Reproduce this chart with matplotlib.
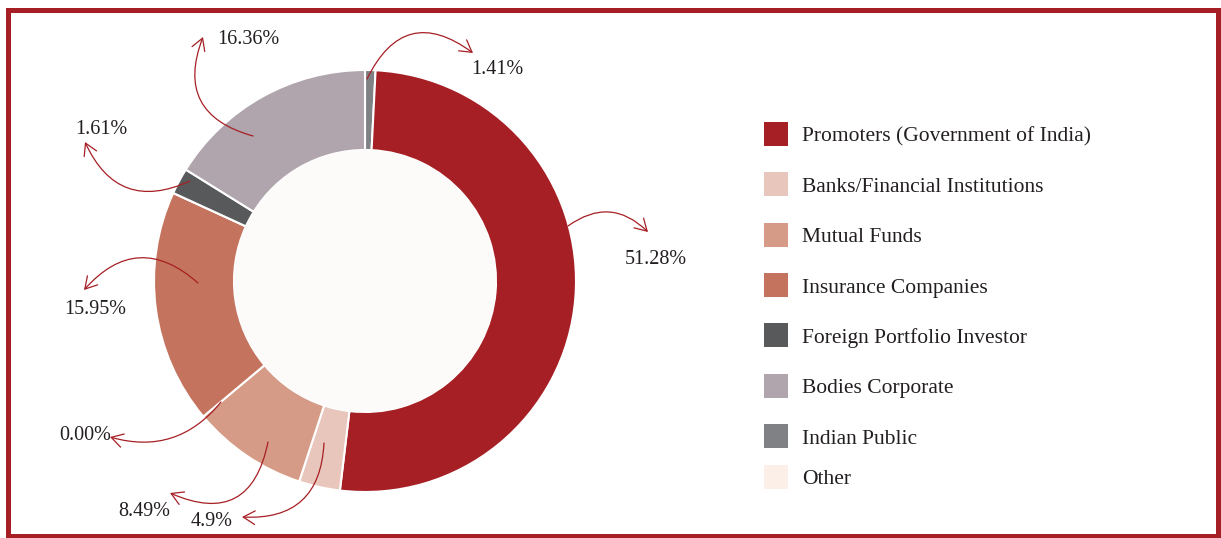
import matplotlib.pyplot as plt
from matplotlib.patches import Circle, Rectangle

# slices in drawing order, clockwise from 12 o'clock
slices = ['Indian Public', 'Promoters (Government of India)', 'Banks/Financial Institutions',
          'Mutual Funds', 'Insurance Companies', 'Other', 'Foreign Portfolio Investor',
          'Bodies Corporate']
# slice sizes as drawn in the picture (angles measured off the ring)
drawn = [0.8, 51.1, 3.15, 8.85, 17.95, 0.0, 2.0, 16.15]
# printed labels
labels = ['1.41%', '51.28%', '4.9%', '8.49%', '15.95%', '0.00%', '1.61%', '16.36%']
colors = ['#808184', '#a61f24', '#e8c6bb', '#d69b86', '#c4745e', '#fcefe8', '#58595b', '#b0a5ac']

legend_order = ['Promoters (Government of India)', 'Banks/Financial Institutions', 'Mutual Funds',
                'Insurance Companies', 'Foreign Portfolio Investor', 'Bodies Corporate',
                'Indian Public', 'Other']

W, H = 1221, 538
red = '#a61f24'
txt = '#231f20'
plt.rcParams['font.family'] = ['Liberation Serif', 'DejaVu Serif']

fig = plt.figure(figsize=(W / 100, H / 100), dpi=100)
ax = fig.add_axes([0, 0, 1, 1])

cx, cy, R = 365, H - 281, 211
ax.pie(drawn, colors=colors, startangle=90, counterclock=False, center=(cx, cy), radius=R,
       wedgeprops=dict(width=80, edgecolor='white', linewidth=1.5))
ax.add_patch(Circle((cx, cy), R - 80, facecolor='#fcfbfa', edgecolor='none'))

# label positions (image px): text centre, arrow start, arrow end, arc curvature
lab_pos = {
    '1.41%': ((497, 66), (367, 79), (473, 53), -0.6),
    '51.28%': ((656, 256), (568, 226), (648, 232), -0.42),
    '4.9%': ((212, 519), (324, 443), (242, 517), -0.5),
    '8.49%': ((144, 508), (268, 442), (170, 493), -0.62),
    '15.95%': ((95, 307), (198, 283), (84, 290), 0.5),
    '0.00%': ((85, 433), (221, 402), (110, 437), -0.33),
    '1.61%': ((101, 127), (190, 181), (85, 142), -0.5),
    '16.36%': ((248, 36), (253, 136), (203, 37), -0.55),
}
for lab in labels:
    (tx, ty), (sx, sy), (ex, ey), rad = lab_pos[lab]
    ax.text(tx, H - ty - 3, lab, ha='center', va='center', fontsize=14.5, color=txt)
    ax.annotate('', xy=(ex, H - ey), xytext=(sx, H - sy),
                arrowprops=dict(arrowstyle='->,head_length=0.6,head_width=0.35',
                                mutation_scale=14, color=red, lw=0.9,
                                shrinkA=0, shrinkB=0,
                                connectionstyle=f'arc3,rad={rad}'))

# legend
leg_y = [134, 184, 235, 285, 335, 386, 436, 477]
for name, y in zip(legend_order, leg_y):
    col = colors[slices.index(name)]
    ax.add_patch(Rectangle((764, H - y - 12), 24, 24, facecolor=col, edgecolor='none'))
    ax.text(802, H - y - 3, name, ha='left', va='center', fontsize=15.5, color=txt)

# frame
ax.add_patch(Rectangle((7.5, H - 536), 1210.5, 526.5, fill=False, edgecolor=red,
                       linewidth=3.6, clip_on=False))

ax.set_xlim(0, W)
ax.set_ylim(0, H)
ax.set_aspect('equal')
ax.axis('off')
fig.savefig('out.png', dpi=100)
